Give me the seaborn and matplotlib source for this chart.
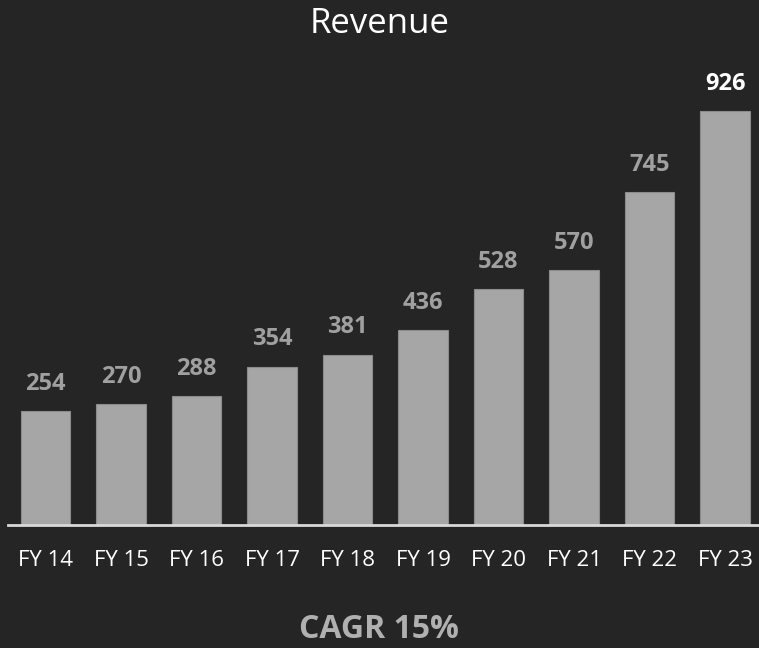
import matplotlib
matplotlib.use("Agg")
import matplotlib.pyplot as plt
import seaborn as sns
import pandas as pd

years = ["FY 14", "FY 15", "FY 16", "FY 17", "FY 18", "FY 19", "FY 20", "FY 21", "FY 22", "FY 23"]
revenue = [254, 270, 288, 354, 381, 436, 528, 570, 745, 926]
title = "Revenue"
footer = "CAGR 15%"

sns.set_style("dark")
plt.rcParams['font.family'] = ['Open Sans', 'DejaVu Sans']

bg = "#252525"
df = pd.DataFrame({"year": years, "revenue": revenue})

fig = plt.figure(figsize=(7.59, 6.48), dpi=100, facecolor=bg)
ax = fig.add_axes([8/759, (648-525)/648, 751/759, 465/648])
ax.set_facecolor(bg)

sns.barplot(data=df, x="year", y="revenue", color="#a6a6a6", width=0.66,
            saturation=1, edgecolor="#8c8c8c", linewidth=0.8, ax=ax)

ax.set_xlim(-0.497, 9.45)
ax.set_ylim(0, 1040)
for s in ["top", "right", "left"]:
    ax.spines[s].set_visible(False)
ax.spines["bottom"].set_color("#d9d9d9")
ax.spines["bottom"].set_linewidth(2)
ax.set_yticks([])
ax.set_xlabel("")
ax.set_ylabel("")
ax.grid(False)
ax.tick_params(axis="x", length=0, pad=18, colors="white", labelsize=16)

for i, v in enumerate(revenue):
    col = "white" if i == len(revenue) - 1 else "#a0a0a0"
    ax.annotate(str(v), (i, v), xytext=(0, 11), textcoords="offset points",
                ha="center", va="bottom", fontsize=17, fontweight="bold", color=col)

fig.text(0.5, 1 - 24/648, title, ha="center", va="center", fontsize=25, color="white")
fig.text(379/759, 1 - 630/648, footer, ha="center", va="center", fontsize=23,
         fontweight="bold", color="#b0b0b0")

fig.savefig("out.png", dpi=100, facecolor=bg)
